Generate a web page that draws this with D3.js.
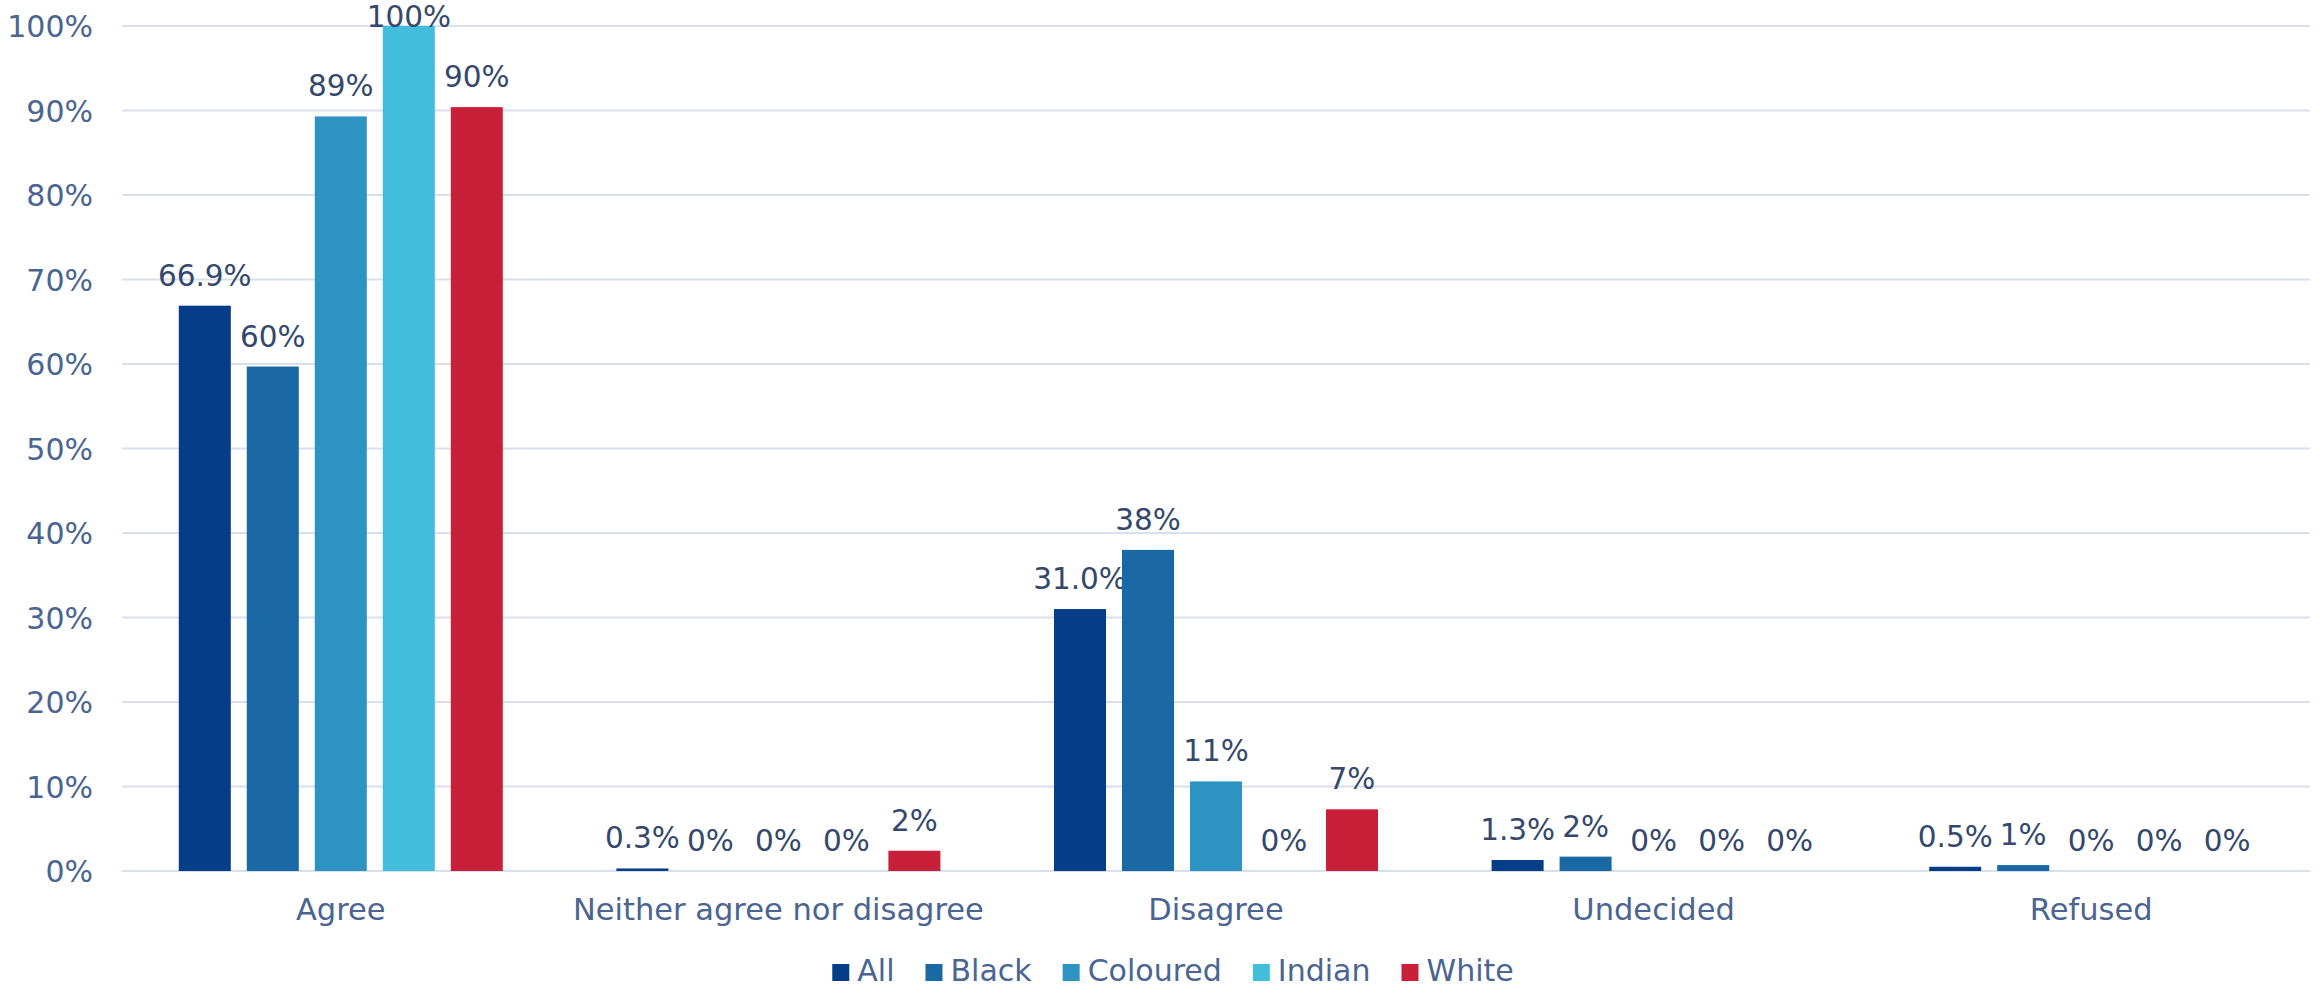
<!DOCTYPE html>
<html>
<head>
<meta charset="utf-8">
<script src="https://cdn.jsdelivr.net/npm/d3@7"></script>
<style>
  body { margin: 0; background: #fff; }
  svg text { font-family: "DejaVu Sans", "Noto Sans", sans-serif; }
</style>
</head>
<body>
<svg width="2320" height="987"></svg>
<script>
// data
var categories = ["Agree", "Neither agree nor disagree", "Disagree", "Undecided", "Refused"];
var series = ["All", "Black", "Coloured", "Indian", "White"];
var allVals      = [66.9, 0.3, 31.0, 1.3, 0.5];
var blackVals    = [59.7, 0, 38.0, 1.7, 0.7];
var colouredVals = [89.3, 0, 10.6, 0, 0];
var indianVals   = [100, 0, 0, 0, 0];
var whiteVals    = [90.4, 2.4, 7.3, 0, 0];
var yTicks = [0, 10, 20, 30, 40, 50, 60, 70, 80, 90, 100];

var colors = ["#053d88", "#1a69a5", "#2c93c2", "#42bedc", "#c72038"];
var valuesBySeries = [allVals, blackVals, colouredVals, indianVals, whiteVals];

var svg = d3.select("svg"),
    width = +svg.attr("width"),
    height = +svg.attr("height");

var margin = {left: 122, right: 10, top: 26, bottom: 116};
var plotBottom = height - margin.bottom;

var x0 = d3.scaleBand()
    .domain(categories)
    .range([margin.left, width - margin.right]);

var x1 = d3.scaleBand()
    .domain(series)
    .range([0, x0.bandwidth()])
    .paddingInner(0.235)
    .paddingOuter(0.835);

var y = d3.scaleLinear()
    .domain([0, 100])
    .range([plotBottom, margin.top]);

var textCol = "#4a6591";
var labelCol = "#33486c";

// gridlines
svg.append("g")
    .selectAll("line")
    .data(yTicks)
    .enter().append("line")
      .attr("x1", margin.left)
      .attr("x2", width - margin.right)
      .attr("y1", d => y(d))
      .attr("y2", d => y(d))
      .attr("stroke", "#d8e0ec")
      .attr("stroke-width", 2);

// y axis labels
var yAxis = svg.append("g")
    .attr("transform", "translate(" + (margin.left - 26) + ",0)")
    .call(d3.axisLeft(y).tickValues(yTicks).tickSize(0).tickFormat(d => d + "%"));
yAxis.select(".domain").remove();
yAxis.selectAll("text")
    .attr("fill", textCol)
    .attr("font-size", 30)
    .attr("dy", "0.36em");

// x axis labels
var xAxis = svg.append("g")
    .attr("transform", "translate(0," + plotBottom + ")")
    .call(d3.axisBottom(x0).tickSize(0));
xAxis.select(".domain").remove();
xAxis.selectAll("text")
    .attr("fill", textCol)
    .attr("font-size", 30.5)
    .attr("y", 0)
    .attr("dy", 49);

// bars
var rows = [];
series.forEach(function(s, i) {
  categories.forEach(function(c, j) {
    rows.push({series: s, cat: c, value: valuesBySeries[i][j], color: colors[i]});
  });
});

var groups = svg.append("g").selectAll("g")
    .data(rows)
    .enter().append("g")
      .attr("transform", d => "translate(" + (x0(d.cat) + x1(d.series)) + ",0)");

groups.append("rect")
    .attr("x", 0)
    .attr("width", x1.bandwidth())
    .attr("y", d => y(d.value))
    .attr("height", d => plotBottom - y(d.value))
    .attr("fill", d => d.color);

groups.append("text")
    .attr("x", x1.bandwidth() / 2)
    .attr("y", d => Math.max(y(d.value) - 20, y(100) + 1))
    .attr("text-anchor", "middle")
    .attr("fill", labelCol)
    .attr("font-size", 29.5)
    .text(d => d.series == "All" ? d3.format(".1f")(d.value) + "%" : d3.format(".0f")(d.value) + "%");

// legend
var legend = svg.append("g");
var lx = 0;
var items = legend.selectAll("g")
    .data(series)
    .enter().append("g");
items.append("rect")
    .attr("width", 17)
    .attr("height", 17)
    .attr("y", -17)
    .attr("fill", (d, i) => colors[i]);
items.append("text")
    .attr("x", 25)
    .attr("y", 0)
    .attr("fill", textCol)
    .attr("font-size", 30)
    .text(d => d);
items.each(function() {
  var g = d3.select(this);
  g.attr("transform", "translate(" + lx + ",0)");
  lx += 25 + g.select("text").node().getComputedTextLength() + 31;
});
lx -= 31;
legend.attr("transform", "translate(" + (1173 - lx / 2) + "," + 981 + ")");
</script>
</body>
</html>
